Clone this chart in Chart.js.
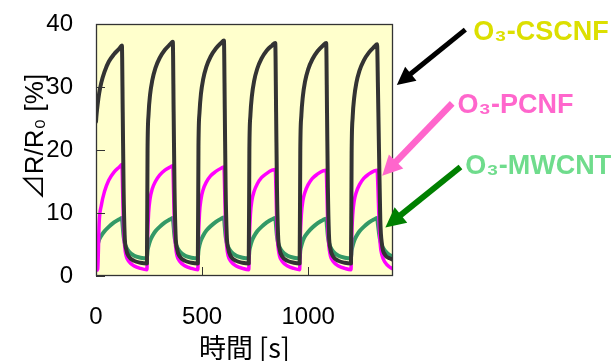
<!DOCTYPE html>
<html><head><meta charset="utf-8">
<script src="https://cdn.jsdelivr.net/npm/chart.js@4.4.1/dist/chart.umd.min.js"></script>
<style>html,body{margin:0;padding:0;background:#fff;overflow:hidden}#wrap{width:614px;height:361px}</style>
</head><body><div id="wrap"><canvas id="c" width="614" height="361"></canvas></div>
<script>
// time [s]
const timeS = [
  0,3,8,15,25,40,60,85,110,122,126,130,135,142,155,180,210,
  240,243,248,255,265,280,300,325,350,362,366,370,375,382,395,420,450,
  480,483,488,495,505,520,540,565,590,603,607,611,616,623,636,661,691,
  720,723,728,735,745,760,780,805,830,845,849,853,858,865,878,903,933,
  960,963,968,975,985,1000,1020,1045,1070,1085,1089,1093,1098,1105,1118,1143,1173,
  1202,1205,1210,1217,1227,1242,1262,1287,1312,1325,1329,1334,1340,1348,1362,1385,1400
];
// ΔR/R0 [%] for O3-CSCNF
const cscnf = [
  24.5,25.8,27.3,29.0,30.7,32.4,34.0,35.2,36.1,36.6,26.0,14.0,6.5,4.3,3.1,2.4,2.1,
  2.0,20.0,25.8,28.8,31.0,33.0,34.6,35.9,36.8,37.2,26.0,14.0,6.6,4.3,3.1,2.4,2.1,
  2.0,20.5,26.0,29.0,31.2,33.2,34.8,36.1,37.0,37.4,26.5,14.0,6.7,4.4,3.1,2.4,2.1,
  2.0,20.0,25.6,28.6,30.9,32.9,34.5,35.8,36.6,37.0,26.0,14.0,6.6,4.3,3.1,2.4,2.1,
  2.0,20.0,25.5,28.5,30.8,32.8,34.4,35.7,36.6,37.0,26.0,14.0,6.6,4.3,3.1,2.4,2.1,
  2.0,19.5,25.3,28.3,30.6,32.6,34.2,35.5,36.4,36.8,30.0,20.0,9.0,5.0,3.4,2.8,2.6
];
// ΔR/R0 [%] for O3-PCNF
const pcnf = [
  0.9,0.9,1.1,8.5,11.2,13.4,15.2,16.5,17.3,17.7,13.0,7.5,4.8,3.2,2.3,1.6,1.2,
  1.0,6.0,10.0,12.3,13.8,15.0,16.0,16.8,17.3,17.5,13.0,7.5,4.8,3.2,2.3,1.6,1.2,
  1.0,6.0,10.0,12.2,13.7,14.9,15.9,16.6,17.1,17.3,13.0,7.5,4.8,3.2,2.3,1.6,1.2,
  1.0,6.0,9.8,12.0,13.4,14.6,15.6,16.3,16.8,16.9,12.8,7.4,4.7,3.2,2.3,1.6,1.2,
  1.0,6.0,9.7,11.9,13.3,14.5,15.5,16.2,16.7,16.8,12.8,7.4,4.7,3.2,2.3,1.6,1.2,
  1.0,6.0,9.7,11.9,13.3,14.5,15.5,16.2,16.7,16.8,14.0,9.0,5.0,3.3,2.2,1.4,1.1
];
// ΔR/R0 [%] for O3-MWCNT
const mwcnt = [
  null,null,5.0,5.8,6.4,7.1,7.8,8.5,9.0,9.2,7.8,6.3,5.3,4.6,3.9,3.2,2.9,
  2.8,4.0,4.8,5.6,6.3,7.1,7.8,8.5,9.0,9.2,7.8,6.3,5.3,4.6,3.9,3.2,2.9,
  2.8,4.0,4.9,5.7,6.4,7.2,7.9,8.6,9.1,9.3,7.8,6.3,5.3,4.6,3.9,3.2,2.9,
  2.8,4.0,4.8,5.6,6.3,7.1,7.8,8.5,9.0,9.2,7.8,6.3,5.3,4.6,3.9,3.2,2.9,
  2.8,4.0,4.8,5.6,6.3,7.0,7.7,8.4,8.9,9.1,7.8,6.3,5.3,4.6,3.9,3.2,2.9,
  2.8,4.0,4.8,5.6,6.3,7.1,7.8,8.5,9.0,9.2,8.2,6.8,5.6,4.8,4.0,3.3,3.1
];
const xTicks = [0, 500, 1000];
const yTicks = [0, 10, 20, 30, 40];
const seriesNames = ['O₃-CSCNF', 'O₃-PCNF', 'O₃-MWCNT'];
const xTitle = '時間 [s]';
const yTitle = '⊿R/R₀ [%]';
// annotation labels and arrows, in data units
const labelX = [1778, 1704, 1741];
const labelY = [38.6, 27.1, 17.3];
const arrowFromX = [1741, 1679, 1718];
const arrowFromY = [39.1, 27.4, 17.3];
const arrowToX = [1418, 1349, 1364];
const arrowToY = [30.3, 15.9, 7.7];

const lineColors = ['#333333', '#ff00ff', '#339966'];
const labelColors = ['#dcdf00', '#ff66cc', '#6fdc8c'];
const arrowColors = ['#000000', '#ff66cc', '#008000'];
const arrowWidths = [5, 6.5, 6];
const arrowHeads = [18, 20, 20];

function pts(vals){ return timeS.map((t,i)=>({x:t, y:vals[i]})); }

const decor = {
  id: 'decor',
  beforeDatasetsDraw(chart){
    const {ctx, chartArea:a} = chart;
    ctx.save();
    ctx.fillStyle = '#ffffcc';
    ctx.fillRect(a.left, a.top, a.right-a.left, a.bottom-a.top);
    ctx.restore();
  },
  afterDatasetsDraw(chart){
    const {ctx, chartArea:a, scales:{x, y}} = chart;
    ctx.save();
    ctx.strokeStyle = '#333333';
    ctx.lineWidth = 1;
    ctx.beginPath();
    yTicks.forEach(v=>{ const p = Math.round(y.getPixelForValue(v))+0.5; ctx.moveTo(a.left, p); ctx.lineTo(a.left+9, p); });
    xTicks.forEach(v=>{ const p = Math.round(x.getPixelForValue(v))+0.5; ctx.moveTo(p, a.bottom); ctx.lineTo(p, a.bottom-9); });
    ctx.stroke();
    ctx.lineWidth = 1.3;
    ctx.strokeRect(a.left+0.5, a.top+0.5, a.right-a.left-1, a.bottom-a.top-1);
    ctx.restore();
  },
  afterDraw(chart){
    const {ctx, chartArea:a, scales:{x, y}} = chart;
    ctx.save();
    // y axis title
    ctx.translate(36, 137);
    ctx.rotate(-Math.PI/2);
    ctx.font = '26px "Liberation Sans", "Noto Sans CJK JP", sans-serif';
    ctx.fillStyle = '#000';
    ctx.textAlign = 'center';
    ctx.textBaseline = 'middle';
    ctx.fillText(yTitle, 0, 0);
    ctx.restore();
    // arrows
    for (let i=0;i<3;i++){
      const x0 = x.getPixelForValue(arrowFromX[i]), y0 = y.getPixelForValue(arrowFromY[i]);
      const x1 = x.getPixelForValue(arrowToX[i]), y1 = y.getPixelForValue(arrowToY[i]);
      const dx = x1-x0, dy = y1-y0, L = Math.hypot(dx,dy), ux = dx/L, uy = dy/L;
      const h = arrowHeads[i], w = h*0.5;
      const bx = x1 - ux*h, by = y1 - uy*h;
      ctx.save();
      ctx.strokeStyle = arrowColors[i];
      ctx.fillStyle = arrowColors[i];
      ctx.lineWidth = arrowWidths[i];
      ctx.beginPath(); ctx.moveTo(x0,y0); ctx.lineTo(bx+ux*2, by+uy*2); ctx.stroke();
      ctx.beginPath();
      ctx.moveTo(x1,y1);
      ctx.lineTo(bx - uy*w, by + ux*w);
      ctx.lineTo(bx + uy*w, by - ux*w);
      ctx.closePath(); ctx.fill();
      ctx.restore();
    }
    // labels
    ctx.save();
    ctx.font = 'bold 27px "Liberation Sans", "DejaVu Sans", sans-serif';
    ctx.textAlign = 'left';
    ctx.textBaseline = 'middle';
    for (let i=0;i<3;i++){
      ctx.fillStyle = labelColors[i];
      ctx.fillText(seriesNames[i], x.getPixelForValue(labelX[i]), y.getPixelForValue(labelY[i]));
    }
    ctx.restore();
  }
};

const tickFont = {family: '"Liberation Sans", Arial, sans-serif', size: 24};

new Chart(document.getElementById('c'), {
  type: 'line',
  data: {
    datasets: [
      {label: seriesNames[0], data: pts(cscnf), borderColor: lineColors[0], borderWidth: 4},
      {label: seriesNames[1], data: pts(pcnf), borderColor: lineColors[1], borderWidth: 3.5},
      {label: seriesNames[2], data: pts(mwcnt), borderColor: lineColors[2], borderWidth: 4}
    ]
  },
  options: {
    responsive: false,
    animation: false,
    devicePixelRatio: 1,
    layout: {padding: {top: 24, right: 221, bottom: 0, left: 0}},
    elements: {point: {radius: 0}, line: {cubicInterpolationMode: 'monotone', borderJoinStyle: 'round', borderCapStyle: 'round'}},
    plugins: {legend: {display: false}, tooltip: {enabled: false}},
    scales: {
      x: {
        type: 'linear', min: 0, max: 1400,
        afterFit(s){ s.height = 85; },
        afterBuildTicks(s){ s.ticks = xTicks.map(v=>({value:v})); },
        grid: {display: false, drawTicks: false},
        border: {display: false},
        ticks: {font: tickFont, color: '#000', padding: 27, maxRotation: 0, autoSkip: false, callback: v => String(v)},
        title: {display: true, text: xTitle, color: '#000',
          font: {family: '"Noto Sans CJK JP", sans-serif', size: 27, lineHeight: 1},
          padding: {top: 0, bottom: 0}}
      },
      y: {
        type: 'linear', min: 0, max: 40,
        afterFit(s){ s.width = 96; },
        afterBuildTicks(s){ s.ticks = yTicks.map(v=>({value:v})); },
        grid: {display: false, drawTicks: true, tickLength: 23},
        border: {display: false},
        ticks: {font: tickFont, color: '#000', padding: 0, callback: v => String(v)}
      }
    }
  },
  plugins: [decor]
});
</script>
</body></html>
